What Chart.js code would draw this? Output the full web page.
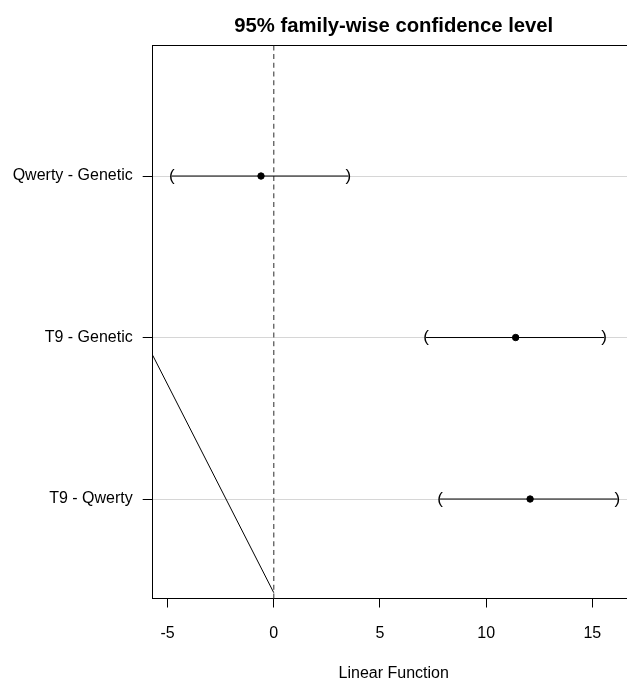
<!DOCTYPE html>
<html>
<head>
<meta charset="utf-8">
<script src="https://cdn.jsdelivr.net/npm/chart.js@4/dist/chart.umd.min.js"></script>
<style>
  html, body { margin: 0; padding: 0; background: #fff; overflow: hidden; }
  #wrap { width: 627px; height: 679px; overflow: hidden; }
</style>
</head>
<body>
<div id="wrap"><canvas id="ci" width="641" height="679"></canvas></div>
<script>
/* global Chart */

// comparisons, top to bottom
var comparisons = ['Qwerty - Genetic', 'T9 - Genetic', 'T9 - Qwerty'];
var positions = [3, 2, 1];
var estimates = [-0.60, 11.39, 12.07];
var lower = [-4.80, 7.17, 7.83];
var upper = [3.51, 15.55, 16.18];
var xTicks = [-5, 0, 5, 10, 15];
var xRange = [-5.70, 17.0];
var yRange = [0.384, 3.807];
// stray line in the original plot
var diagX = [-5.70, 0];
var diagY = [1.89, 0.42];

var font = { family: '"Liberation Sans", Arial, sans-serif', size: 16 };

var datasets = [];
comparisons.forEach(function(name, i) {
  datasets.push({
    label: name,
    data: [{ x: lower[i], y: positions[i] }, { x: upper[i], y: positions[i] }],
    showLine: true,
    borderColor: '#000',
    borderWidth: 1,
    pointRadius: 0
  });
});
datasets.push({
  label: 'estimate',
  data: estimates.map(function(v, i) { return { x: v, y: positions[i] }; }),
  backgroundColor: '#000',
  borderColor: '#000',
  pointRadius: 3.2
});
datasets.push({
  label: 'zero',
  data: [{ x: 0, y: yRange[0] }, { x: 0, y: yRange[1] }],
  showLine: true,
  borderColor: '#5a5a5a',
  borderWidth: 1.3,
  borderDash: [5, 3.7],
  pointRadius: 0
});
datasets.push({
  label: 'diag',
  data: diagX.map(function(v, i) { return { x: v, y: diagY[i] }; }),
  showLine: true,
  borderColor: '#000',
  borderWidth: 1,
  pointRadius: 0
});

// draws the ( and ) at interval ends
var brackets = {
  id: 'brackets',
  afterDatasetsDraw: function(chart) {
    var ctx = chart.ctx, xs = chart.scales.x, ys = chart.scales.y;
    ctx.save();
    ctx.fillStyle = '#000';
    ctx.font = '17px "Liberation Sans", Arial, sans-serif';
    ctx.textAlign = 'center';
    ctx.textBaseline = 'middle';
    comparisons.forEach(function(name, i) {
      var py = ys.getPixelForValue(positions[i]);
      ctx.fillText('(', xs.getPixelForValue(lower[i]), py);
      ctx.fillText(')', xs.getPixelForValue(upper[i]), py);
    });
    ctx.restore();
  }
};

new Chart(document.getElementById('ci'), {
  type: 'scatter',
  data: { datasets: datasets },
  plugins: [brackets],
  options: {
    responsive: false,
    animation: false,
    layout: { padding: { left: 0, right: 6.2, top: 0, bottom: 0 } },
    plugins: { legend: { display: false }, tooltip: { enabled: false } },
    scales: {
      x: {
        type: 'linear',
        position: 'bottom',
        min: xRange[0],
        max: xRange[1],
        afterBuildTicks: function(s) { s.ticks = xTicks.map(function(v) { return { value: v }; }); },
        ticks: { font: font, color: '#000', padding: 16 },
        grid: { drawOnChartArea: false, tickLength: 9, tickColor: '#000' },
        border: { color: '#000', width: 1 },
        title: { display: true, text: 'Linear Function', color: '#000',
                 font: { family: font.family, size: 16, lineHeight: 1 }, padding: { top: 0, bottom: -3 } },
        afterFit: function(s) { s.height = 80.5; }
      },
      x2: {
        type: 'linear',
        position: 'top',
        ticks: { display: false },
        grid: { drawOnChartArea: false, drawTicks: false },
        border: { color: '#000', width: 1 },
        title: { display: true, text: '95% family-wise confidence level', color: '#000',
                 font: { family: font.family, size: 20.3, weight: 'bold', lineHeight: 1 },
                 padding: { top: 16.5, bottom: 8.9 } }
      },
      y: {
        type: 'linear',
        min: yRange[0],
        max: yRange[1],
        afterBuildTicks: function(s) { s.ticks = positions.map(function(v) { return { value: v }; }); },
        ticks: {
          font: font, color: '#000', padding: 10,
          callback: function(v) { return comparisons[positions.indexOf(v)]; }
        },
        grid: { color: '#d6d6d6', tickColor: '#000', tickLength: 10, lineWidth: 1 },
        border: { color: '#000', width: 1 },
        afterFit: function(s) { s.width = 152.7; }
      }
    }
  }
});
</script>
</body>
</html>
